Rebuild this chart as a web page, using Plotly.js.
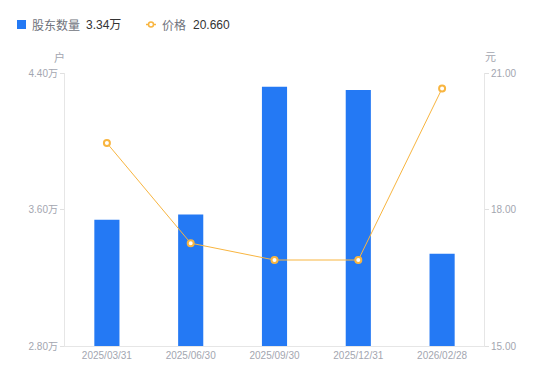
<!DOCTYPE html>
<html><head><meta charset="utf-8">
<script src="https://cdn.plot.ly/plotly-3.0.1.min.js"></script>
<style>html,body{margin:0;padding:0;background:#fff}#c{width:550px;height:381px}</style>
</head><body><div id="c"></div>
<script>
const categories = ['2025/03/31','2025/06/30','2025/09/30','2025/12/31','2026/02/28'];
const holders = [3.54, 3.57, 4.32, 4.30, 3.34];   // 万户
const prices = [19.46, 17.26, 16.89, 16.89, 20.66];
const leftTicks = [2.8, 3.6, 4.4];
const leftTickText = ['2.80万','3.60万','4.40万'];
const rightTicks = [15, 18, 21];
const rightTickText = ['15.00','18.00','21.00'];

const W = 550, H = 381, L = 65, R = 66, T = 73, B = 35;
const pw = W - L - R, ph = H - T - B;
const px = x => (x - L) / pw;
const py = y => (H - B - y) / ph;
const font = '"Liberation Sans", Arial, "Noto Sans CJK SC", sans-serif';
const barColor = '#2479F4';
const lineColor = '#F8B540';
const tickColor = '#A3A6B0';

const traces = [
  {type:'bar', x:categories, y:holders, marker:{color:barColor, line:{width:0}}, width:0.3,
   hoverinfo:'none', showlegend:false},
  {type:'scatter', mode:'lines+markers', x:categories, y:prices, yaxis:'y2',
   line:{color:lineColor, width:1}, marker:{size:6, color:'#fff', line:{color:lineColor, width:2}},
   hoverinfo:'none', showlegend:false}
];

const ann = (x, y, text, color, size, anchor) => ({xref:'paper', yref:'paper', x:px(x), y:py(y), text,
  showarrow:false, xanchor:anchor||'left', yanchor:'middle', font:{family:font, size:size||12, color}});

const layout = {
  width:W, height:H, margin:{l:L, r:R, t:T, b:B}, paper_bgcolor:'#fff', plot_bgcolor:'#fff',
  showlegend:false, bargap:0.7,
  font:{family:font},
  xaxis:{type:'category', showline:true, linecolor:'#E6E6E6', linewidth:1, ticks:'', showgrid:false,
    tickfont:{size:10, color:tickColor}, fixedrange:true},
  yaxis:{range:[2.8,4.4], tickvals:leftTicks, ticktext:leftTickText, showgrid:false, zeroline:false,
    showline:true, linecolor:'#E6E6E6', ticks:'outside', ticklen:4, tickcolor:'#E0E0E0',
    tickfont:{size:10, color:tickColor}},
  yaxis2:{range:[15,21], tickvals:rightTicks, ticktext:rightTickText, overlaying:'y', side:'right',
    showgrid:false, zeroline:false, showline:true, linecolor:'#E6E6E6', ticks:'outside', ticklen:4,
    tickcolor:'#E0E0E0', tickfont:{size:10, color:tickColor}},
  shapes:[
    {type:'rect', xref:'paper', yref:'paper', x0:px(17), x1:px(26), y0:py(29), y1:py(20),
     fillcolor:barColor, line:{width:0}},
    {type:'line', xref:'paper', yref:'paper', x0:px(146), x1:px(156), y0:py(24.5), y1:py(24.5),
     line:{color:lineColor, width:1.5}},
    {type:'circle', xref:'paper', yref:'paper', x0:px(148.5), x1:px(153.5), y0:py(27), y1:py(22),
     fillcolor:'#fff', line:{color:lineColor, width:1.5}}
  ],
  annotations:[
    ann(30, 25.5, '股东数量', '#70737C', 12),
    ann(84, 25.5, '3.34万', '#333', 12),
    ann(160, 25.5, '价格', '#70737C', 12),
    ann(191, 25.5, '20.660', '#333', 12),
    ann(59, 57, '户', tickColor, 11, 'center'),
    ann(490, 57, '元', tickColor, 11, 'center')
  ]
};
Plotly.newPlot('c', traces, layout, {displayModeBar:false, staticPlot:true});
</script></body></html>
